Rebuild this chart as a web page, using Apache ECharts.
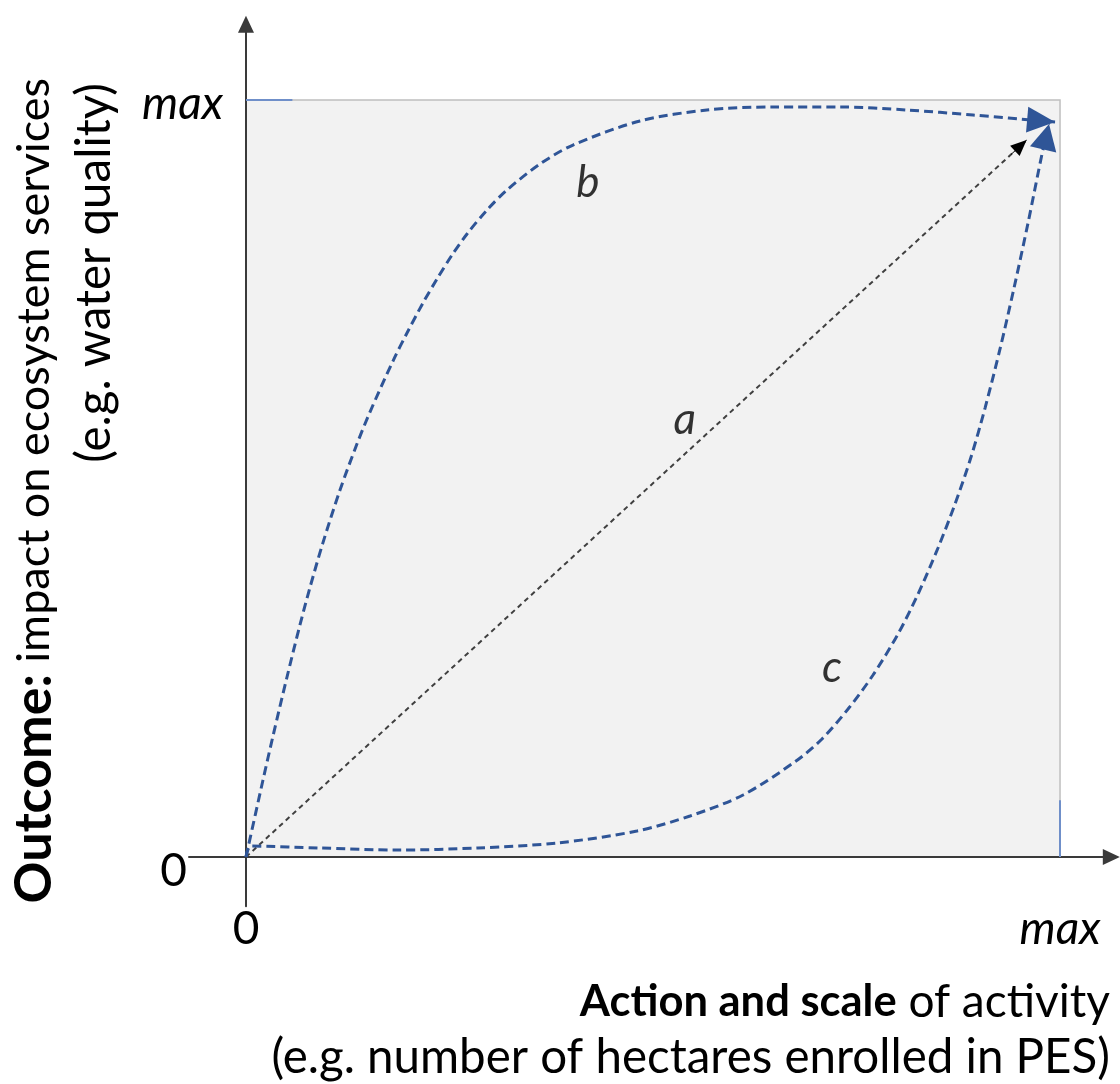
<!DOCTYPE html>
<html><head><meta charset="utf-8">
<script src="https://cdn.jsdelivr.net/npm/echarts@6/dist/echarts.min.js"></script>
<style>html,body{margin:0;padding:0;background:#fff}#c{width:1120px;height:1084px}</style>
</head><body><div id="c"></div>
<script>
// ---- data (unit scale: 0 .. max = 1) ----
const curveA = [[0, 0], [0.959, 0.947]];
const curveB = [[0, 0], [0.0209, 0.1017], [0.0332, 0.1598], [0.0504, 0.2378], [0.0663, 0.3065],
  [0.0786, 0.3560], [0.0946, 0.4153], [0.1155, 0.4848], [0.1364, 0.5458], [0.1523, 0.5878],
  [0.1806, 0.6552], [0.1978, 0.6922], [0.2174, 0.7318], [0.2346, 0.7635], [0.2531, 0.7952],
  [0.2715, 0.8230], [0.2961, 0.8547], [0.3206, 0.8811], [0.3612, 0.9155], [0.4017, 0.9405],
  [0.4840, 0.9723], [0.5663, 0.9868], [0.6474, 0.9908], [0.7297, 0.9908], [0.8120, 0.9868],
  [0.8931, 0.9802], [0.9939, 0.9709]];
const curveC = [[0, 0], [0.0061, 0.0145], [0.0897, 0.0119], [0.1880, 0.0092], [0.2850, 0.0119],
  [0.3821, 0.0185], [0.4803, 0.0343], [0.5455, 0.0542], [0.6106, 0.0819], [0.6757, 0.1268],
  [0.7076, 0.1559], [0.7396, 0.1955], [0.7703, 0.2404], [0.8010, 0.2946], [0.8256, 0.3474],
  [0.8501, 0.4082], [0.8710, 0.4663], [0.8907, 0.5284], [0.9079, 0.5931], [0.9263, 0.6711],
  [0.9435, 0.7517], [0.9607, 0.8375], [0.9779, 0.9287], [0.9865, 0.9683]];
const curveNames = ['a', 'b', 'c'];
const curveLabelPos = [[0.539, 0.577], [0.420, 0.890], [0.720, 0.250]];
const boxCorners = [[0, 0], [1, 1]];
const boxEdgeMarks = [[[0, 1], [0.057, 1]], [[1, 0], [1, 0.075]]];
const xTickValues = [0, 1];
const xTickLabels = ['0', 'max'];
const yTickValues = [0, 1];
const yTickLabels = ['0', 'max'];
const xTitleBold = 'Action and scale';
const xTitleRest = ' of activity';
const xTitleLine2 = '(e.g. number of hectares enrolled in PES)';
const yTitleBold = 'Outcome:';
const yTitleRest = ' impact on ecosystem services';
const yTitleLine2 = '(e.g. water quality)';

// ---- styling ----
const FF = 'Lato, "Open Sans", sans-serif';
const FS = 44;
const BLUE = '#2F5597';

function arrowMark(data, color, size) {
  const tip = data[data.length - 1];
  const prev = data[data.length - 2];
  const start = [tip[0] - (tip[0] - prev[0]) * 0.02, tip[1] - (tip[1] - prev[1]) * 0.02];
  return {
    silent: true, animation: false,
    symbol: ['none', 'triangle'],
    symbolSize: size,
    symbolOffset: [[0, 0], [0, size[1] / 2]],
    label: {show: false},
    emphasis: {disabled: true},
    lineStyle: {color: color, width: 1, type: 'solid'},
    data: [[{coord: start}, {coord: tip}]]
  };
}

const chart = echarts.init(document.getElementById('c'), null, {renderer: 'canvas'});
chart.setOption({
  animation: false,
  backgroundColor: '#ffffff',
  grid: {left: 189, top: 24.3, width: 922.3, height: 881.9, containLabel: false},
  xAxis: {
    type: 'value', min: -0.07, max: 1.063, z: 2,
    axisLine: {onZero: true, lineStyle: {color: '#3a3a3a', width: 2}, symbol: ['none', 'triangle'], symbolSize: [16, 17]},
    axisTick: {show: false}, splitLine: {show: false},
    axisLabel: {
      customValues: xTickValues, margin: 0,
      formatter: function (v, i) { const k = xTickValues.indexOf(v); return k === 0 ? '{n|' + xTickLabels[k] + '}' : '{m|' + xTickLabels[k] + '}'; },
      rich: {
        n: {fontSize: 46, fontFamily: FF, color: '#000'},
        m: {fontSize: 46, fontFamily: FF, fontStyle: 'italic', color: '#000'}
      }
    }
  },
  yAxis: {
    type: 'value', min: -0.065, max: 1.100, z: 2,
    axisLine: {onZero: true, lineStyle: {color: '#3a3a3a', width: 2}, symbol: ['none', 'triangle'], symbolSize: [16, 17]},
    axisTick: {show: false}, splitLine: {show: false},
    axisLabel: {
      customValues: yTickValues, margin: -34,
      formatter: function (v) { const k = yTickValues.indexOf(v); return k === 0 ? '{n|' + yTickLabels[k] + '}' : '{m|' + yTickLabels[k] + '}'; },
      rich: {
        n: {fontSize: 46, fontFamily: FF, color: '#000', padding: [28, 36, 0, 0]},
        m: {fontSize: 46, fontFamily: FF, fontStyle: 'italic', color: '#000', padding: [8, 0, 0, 0]}
      }
    }
  },
  series: [
    {
      name: 'box', type: 'line', z: 1, data: boxCorners, showSymbol: false, silent: true,
      lineStyle: {opacity: 0},
      markArea: {silent: true, itemStyle: {color: '#F2F2F2', borderColor: '#BFBFBF', borderWidth: 1.5},
        data: [[{coord: boxCorners[0]}, {coord: boxCorners[1]}]]},
      markLine: {silent: true, symbol: 'none', label: {show: false}, animation: false,
        lineStyle: {color: '#6F8FC9', width: 2, type: 'solid'},
        data: boxEdgeMarks.map(s => [{coord: s[0]}, {coord: s[1]}])}
    },
    {
      name: 'a', type: 'line', z: 3, data: curveA, showSymbol: false, silent: true,
      lineStyle: {color: '#404040', width: 2, type: [5, 4]},
      markLine: arrowMark(curveA, '#000', [14, 16])
    },
    {
      name: 'b', type: 'line', z: 3, data: curveB, showSymbol: false, silent: true, smooth: 0.3,
      lineStyle: {color: BLUE, width: 3, type: [9, 5]},
      markLine: arrowMark(curveB, BLUE, [26, 28])
    },
    {
      name: 'c', type: 'line', z: 3, data: curveC, showSymbol: false, silent: true, smooth: 0.3,
      lineStyle: {color: BLUE, width: 3, type: [9, 5]},
      markLine: arrowMark(curveC, BLUE, [27, 26])
    },
    {
      name: 'labels', type: 'scatter', z: 4, data: curveLabelPos, symbolSize: 0, silent: true,
      label: {show: true, position: 'inside', formatter: p => curveNames[p.dataIndex],
        fontSize: FS, fontFamily: FF, fontStyle: 'italic', color: '#000'}
    }
  ],
  graphic: [
    {type: 'text', x: 1110, y: 1002, silent: true,
      style: {text: '{b|' + xTitleBold + '}' + xTitleRest, align: 'right', verticalAlign: 'middle',
        fontSize: 46, fontFamily: FF, fill: '#000',
        rich: {b: {fontWeight: 'bold', fontSize: 43.5, fontFamily: FF, fill: '#000'}}}},
    {type: 'text', x: 1110, y: 1058, silent: true,
      style: {text: xTitleLine2, align: 'right', verticalAlign: 'middle', fontSize: 47.5, fontFamily: FF, fill: '#000'}},
    {type: 'text', x: 34, y: 78, rotation: Math.PI / 2, silent: true,
      style: {text: '{b|' + yTitleBold + '}' + yTitleRest, align: 'right', verticalAlign: 'middle',
        fontSize: 45, fontFamily: FF, fill: '#000',
        rich: {b: {fontWeight: 'bold', fontSize: 52, fontFamily: FF, fill: '#000'}}}},
    {type: 'text', x: 95, y: 83, rotation: Math.PI / 2, silent: true,
      style: {text: yTitleLine2, align: 'right', verticalAlign: 'middle', fontSize: 47.5, fontFamily: FF, fill: '#000'}}
  ]
});
</script></body></html>
